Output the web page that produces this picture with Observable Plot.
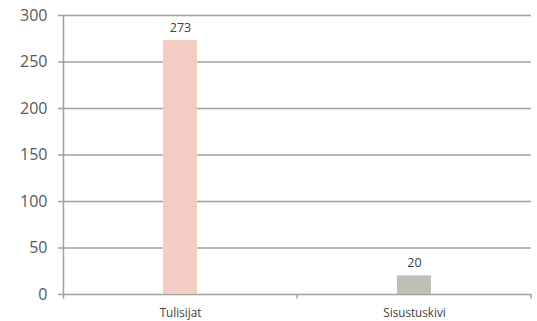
<!DOCTYPE html>
<html>
<head>
<meta charset="utf-8">
<script src="https://cdn.jsdelivr.net/npm/d3@7"></script>
<script src="https://cdn.jsdelivr.net/npm/@observablehq/plot@0.6"></script>
<style>
  html, body { margin: 0; padding: 0; background: #fff; }
  svg { display: block; }
</style>
</head>
<body>
<div id="chart"></div>
<script>
const categories = ["Tulisijat", "Sisustuskivi"];
const values = [273, 20];
const colors = ["#f4ccc3", "#c0bfb6"];
const yTicks = [0, 50, 100, 150, 200, 250, 300];

const data = categories.map((c, i) => ({category: c, value: values[i], color: colors[i]}));

const font = "'Open Sans', 'Noto Sans', sans-serif";

// spine and category boundary ticks drawn from the scales
function frameMark() {
  return (index, scales, values, dims) => {
    const g = d3.create("svg:g");
    const x = scales.x, y = scales.y;
    const bw = typeof x.bandwidth === "function" ? x.bandwidth() : x.bandwidth;
    const y0 = y(0), yTop = y(300);
    const left = x(categories[0]);
    g.append("line")
      .attr("x1", left + 0.5).attr("x2", left + 0.5)
      .attr("y1", yTop).attr("y2", y0 + 4.5)
      .attr("stroke", "#a0a0a0").attr("stroke-width", 1.5);
    const bounds = categories.slice(1).map(c => x(c)).concat([x(categories[categories.length - 1]) + bw]);
    bounds.forEach(b => {
      g.append("line")
        .attr("x1", b).attr("x2", b)
        .attr("y1", y0).attr("y2", y0 + 4.5)
        .attr("stroke", "#a0a0a0").attr("stroke-width", 1.5);
    });
    return g.node();
  };
}

const chart = Plot.plot({
  width: 537,
  height: 321,
  marginLeft: 63,
  marginRight: 6,
  marginTop: 15,
  marginBottom: 27,
  style: {fontFamily: font, background: "#fff"},
  x: {domain: categories, padding: 0},
  y: {domain: [0, 300]},
  marks: [
    Plot.gridY(yTicks, {stroke: "#a0a0a0", strokeOpacity: 1, strokeWidth: 1.5}),
    Plot.axisY(yTicks, {tickSize: 5, tickPadding: 11, fontSize: 16, stroke: "#a0a0a0", strokeWidth: 1.5, fill: "#595959", label: null}),
    Plot.barY(data, {x: "category", y: "value", fill: "color", insetLeft: 100, insetRight: 100}),
    Plot.text(data, {x: "category", y: "value", text: d => String(d.value), dy: -13, fontSize: 12.5, fill: "#404040"}),
    Plot.axisX({tickSize: 0, tickPadding: 14, fontSize: 11.7, fill: "#404040", label: null}),
    frameMark()
  ]
});

document.getElementById("chart").appendChild(chart);
</script>
</body>
</html>
